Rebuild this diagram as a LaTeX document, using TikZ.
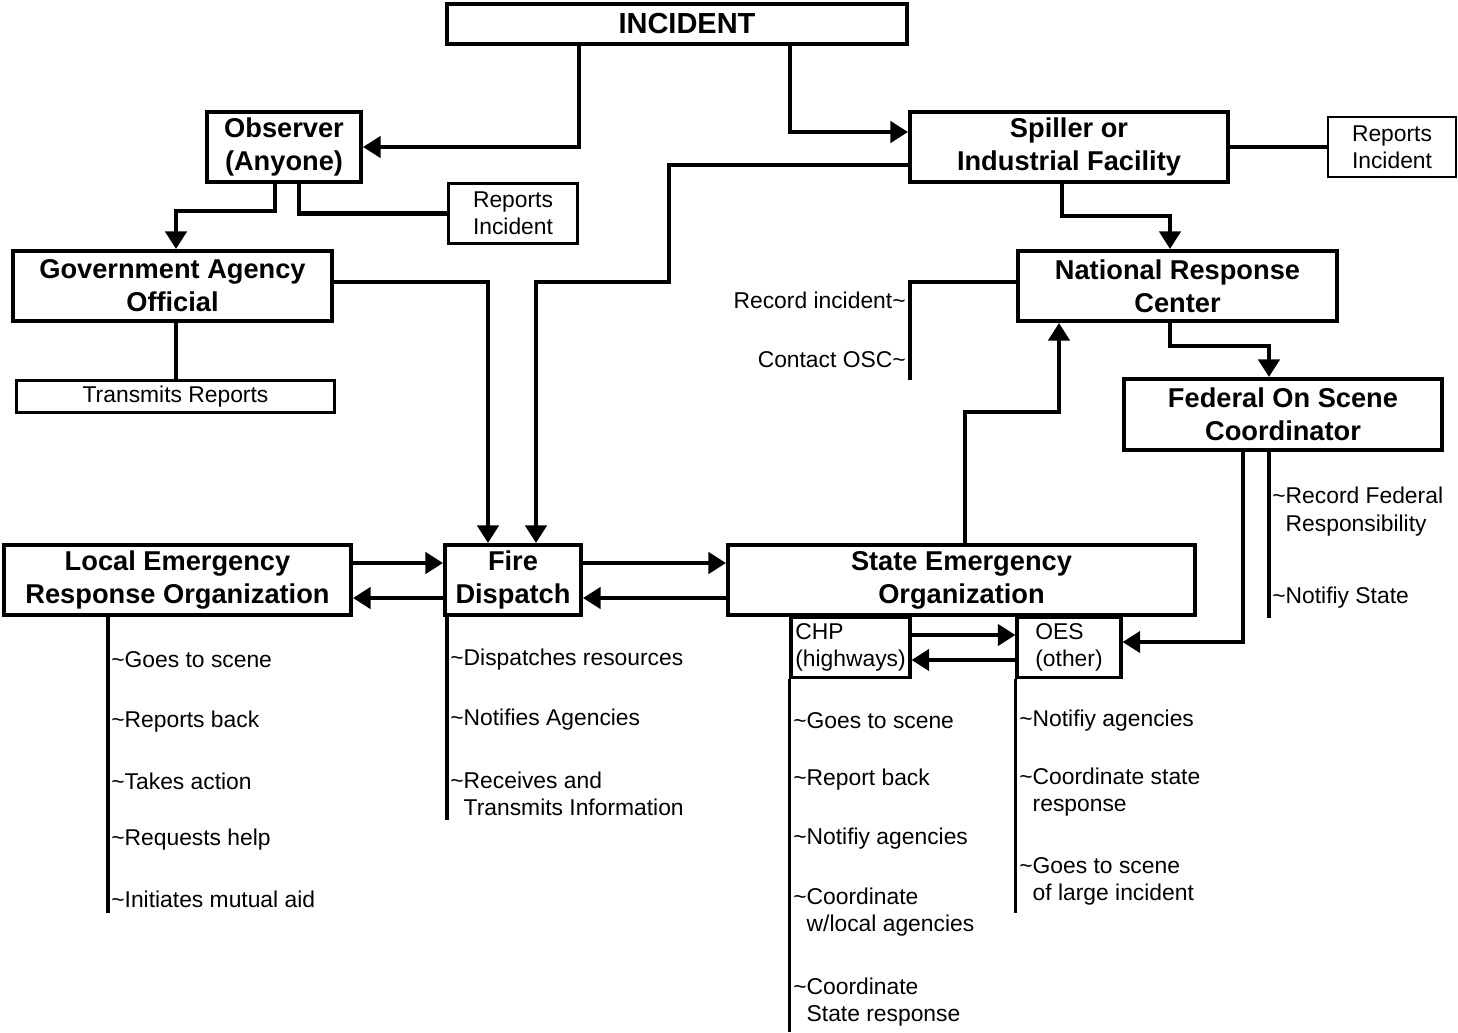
\documentclass[tikz,border=0pt]{standalone}
\usepackage{fontspec}
\setmainfont{Liberation Sans}
\usetikzlibrary{arrows.meta}
\newcommand{\tild}{\textasciitilde}
\newcommand{\tindent}{\hphantom{\textasciitilde}}
\tikzset{
	box/.style={draw, line width=2.3pt, align=center, inner sep=0pt, font=\fontsize{15.5}{18.7}\selectfont\bfseries},
	note/.style={draw, line width=1.2pt, align=center, inner sep=0pt, font=\fontsize{13}{15.5}\selectfont},
	subbox/.style={draw, line width=1.8pt, align=left, inner sep=0pt, font=\fontsize{13}{15.5}\selectfont},
	item/.style={anchor=west, align=left, inner sep=0pt, font=\fontsize{13}{15.5}\selectfont},
	link/.style={line width=2.3pt},
	rail/.style={line width=2pt},
	arr/.style={link, -{Triangle[length=10pt,width=12pt]}},
}
\begin{document}
\begin{tikzpicture}[x=0.02cm, y=-0.02cm, line join=miter]
	\useasboundingbox (0,0) rectangle (1458,1032);
	% boxes
	\node[box, minimum width=9.2cm, minimum height=0.8cm, font=\fontsize{16.5}{19}\selectfont\bfseries] (incident) at (677,24) {\hspace{0.4cm}INCIDENT};
	\node[box, minimum width=3.08cm, minimum height=1.4cm] (observer) at (284,147) {Observer\\(Anyone)};
	\node[box, minimum width=6.36cm, minimum height=1.4cm] (spiller) at (1069,147) {Spiller or\\Industrial Facility};
	\node[note, minimum width=2.56cm, minimum height=1.2cm] (repR) at (1392,147) {Reports\\Incident};
	\node[note, minimum width=2.58cm, minimum height=1.2cm] (repL) at (513,213.5) {Reports\\Incident};
	\node[box, minimum width=6.38cm, minimum height=1.4cm] (gov) at (172.5,286) {Government Agency\\Official};
	\node[note, minimum width=6.36cm, minimum height=0.64cm] (transmits) at (175.5,396.5) {Transmits Reports};
	\node[box, minimum width=6.38cm, minimum height=1.4cm] (nrc) at (1177.5,286) {National Response\\Center};
	\node[box, minimum width=6.36cm, minimum height=1.42cm] (fosc) at (1283,414.5) {Federal On Scene\\Coordinator};
	\node[box, minimum width=6.94cm, minimum height=1.4cm] (lero) at (177.5,580) {Local Emergency\\Response Organization};
	\node[box, minimum width=2.72cm, minimum height=1.4cm] (fire) at (513,580) {Fire\\Dispatch};
	\node[box, minimum width=9.34cm, minimum height=1.4cm] (state) at (961.5,580) {State Emergency\\Organization};
	\node[subbox, minimum width=2.38cm, minimum height=1.2cm] (chp) at (850.5,647.5) {CHP\\(highways)};
	\node[subbox, minimum width=2.08cm, minimum height=1.2cm] (oes) at (1069,647.5) {OES\\(other)\hspace{0.15cm}};
	% free ends of the rails
	\coordinate (nrcend) at (910,380);
	\coordinate (fedend) at (1269,618);
	\coordinate (leend) at (108,913);
	\coordinate (fireend) at (447,820);
	\coordinate (chpend) at (chp.south west |- 0,1032);
	\coordinate (oesend) at (oes.south west |- 0,913);
	% top part
	\draw[arr] (incident.south -| 579,0) |- (observer.east);
	\draw[arr] (incident.south -| 790,0) |- (spiller.west |- 0,132);
	\draw[link] (spiller.east) -- (repR.west |- spiller.east);
	\draw[link] (observer.south -| 299,0) |- (repL.west);
	\draw[arr] (observer.south -| 275,0) -- ++(0,27) -| (gov.north -| 176,0);
	\draw[link] (gov.south -| 176,0) -- (transmits.north -| 176,0);
	\draw[arr] (gov.east |- 0,282) -| (fire.north -| 488,0);
	\draw[arr] (spiller.west |- 0,165) -| (669,282) -| (fire.north -| 536,0);
	\draw[arr] (spiller.south -| 1062,0) -- ++(0,32) -| (nrc.north -| 1170,0);
	\draw[rail] (nrc.west |- 0,282) -| (nrcend);
	\draw[arr] (nrc.south -| 1170,0) -- ++(0,23) -| (fosc.north -| 1269,0);
	\draw[arr] (fosc.south -| 1243,0) |- (oes.east |- 0,642);
	\draw[rail] (fosc.south -| 1269,0) -- (fedend);
	\draw[arr] (state.north -| 965,0) |- (1059,412) -- (nrc.south -| 1059,0);
	% middle row
	\draw[arr] (lero.east |- 0,563) -- (fire.west |- 0,563);
	\draw[arr] (fire.west |- 0,598) -- (lero.east |- 0,598);
	\draw[arr] (fire.east |- 0,563) -- (state.west |- 0,563);
	\draw[arr] (state.west |- 0,598) -- (fire.east |- 0,598);
	\draw[arr] (chp.east |- 0,635) -- (oes.west |- 0,635);
	\draw[arr] (oes.west |- 0,660) -- (chp.east |- 0,660);
	% rails
	\draw[rail] (lero.south -| 108,0) -- (leend);
	\draw[rail] (fire.south -| 447,0) -- (fireend);
	\draw[rail] (chp.south west) -- (chpend);
	\draw[rail] (oes.south west) -- (oesend);
	% lists
	\node[item, anchor=east] (rec) at (906,300) {Record incident\tild};
	\node[item, anchor=east] (osc) at (906,360) {Contact OSC\tild};
	\node[item] (fed1) at (1272,511.5) {\tild Record Federal\\\tindent Responsibility};
	\node[item] (fed2) at (1272,598) {\tild Notifiy State};
	\foreach \y/\txt in {660/Goes to scene, 722/Reports back, 781/Takes action, 840/Requests help, 899/Initiates mutual aid}
		\node[item] (le\y) at (111,\y) {\tild\txt};
	\foreach \y/\txt in {660/Dispatches resources, 720/Notifies Agencies, 794/{Receives and\\\tindent Transmits Information}}
		\node[item] (fd\y) at (450,\y) {\tild\txt};
	\foreach \y/\txt in {721/Goes to scene, 780/Report back, 839/Notifiy agencies, 912/{Coordinate\\\tindent w/local agencies}, 1002/{Coordinate\\\tindent State response}}
		\node[item] (chp\y) at (793,\y) {\tild\txt};
	\foreach \y/\txt in {721/Notifiy agencies, 792/{Coordinate state\\\tindent response}, 881/{Goes to scene\\\tindent of large incident}}
		\node[item] (oes\y) at (1019,\y) {\tild\txt};
\end{tikzpicture}
\end{document}
